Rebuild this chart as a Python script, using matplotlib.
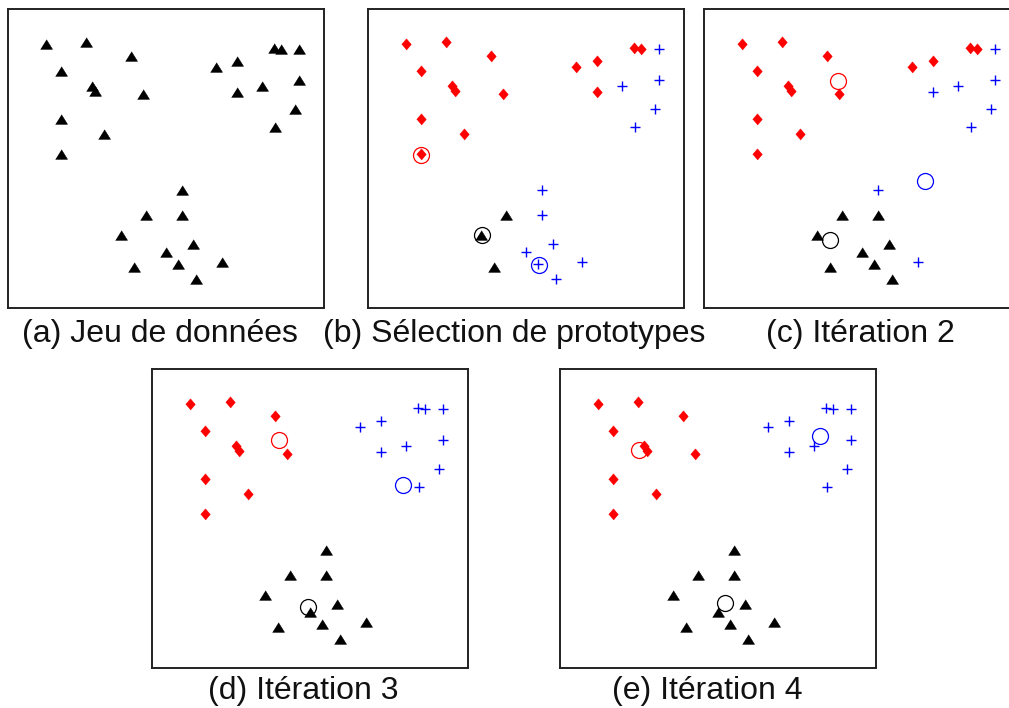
import matplotlib
matplotlib.use('Agg')
import matplotlib.pyplot as plt

# coordonnees des points (pixels dans le cadre, y vers le bas)
x = [38.0, 77.7, 123.0, 53.0, 83.7, 87.0, 135.3, 53.0, 96.0, 53.0,
     208.3, 228.7, 228.7, 254.3, 266.0, 273.0, 290.7, 290.7, 287.3, 266.7,
     174.3, 138.3, 174.3, 112.7, 184.7, 158.0, 170.0, 126.3, 214.3, 187.7]
y = [34.7, 33.0, 46.7, 62.3, 77.0, 82.3, 84.7, 110.3, 125.0, 145.3,
     58.3, 51.7, 83.3, 76.7, 39.0, 39.7, 39.7, 71.0, 100.0, 118.0,
     181.0, 205.7, 205.7, 225.7, 235.3, 243.3, 254.7, 258.0, 253.0, 269.7]

# 0 = rouge, 1 = bleu, 2 = noir
labels_a = [2] * 30
labels_b = [0, 0, 0, 0, 0, 0, 0, 0, 0, 0, 0, 0, 0, 1, 0, 0, 1, 1, 1, 1,
            1, 2, 1, 2, 1, 1, 1, 2, 1, 1]
labels_c = [0, 0, 0, 0, 0, 0, 0, 0, 0, 0, 0, 0, 1, 1, 0, 0, 1, 1, 1, 1,
            1, 2, 2, 2, 2, 2, 2, 2, 1, 2]
labels_d = [0, 0, 0, 0, 0, 0, 0, 0, 0, 0, 1, 1, 1, 1, 1, 1, 1, 1, 1, 1,
            2, 2, 2, 2, 2, 2, 2, 2, 2, 2]
labels_e = labels_d

# prototypes (rouge, bleu, noir)
centers_b = [(53.0, 146.3), (170.7, 255.7), (113.7, 226.3)]
centers_c = [(133.7, 72.3), (221.3, 171.7), (126.3, 230.7)]
centers_d = [(127.0, 71.0), (251.3, 116.0), (156.3, 237.7)]
centers_e = [(79.0, 80.7), (260.0, 67.3), (165.0, 234.0)]

titles = ['(a) Jeu de données', '(b) Sélection de prototypes',
          '(c) Itération 2', '(d) Itération 3', '(e) Itération 4']

W, H = 1009, 708
colors = ['#ff0000', '#0000ff', '#000000']
diamond = [(-0.85, 0), (0, 1), (0.85, 0), (0, -1)]
triangle = [(-1, -0.8), (1, -0.8), (0, 0.8)]
markers = [diamond, '+', triangle]
sizes = [8.0, 7.0, 8.6]


def paint_panel(rect, labels, centers=None):
    left, top, w, h = rect
    ax = fig.add_axes([left / W, 1 - (top + h) / H, w / W, h / H])
    for k in range(3):
        xs = [x[i] for i in range(len(x)) if labels[i] == k]
        ys = [y[i] for i in range(len(y)) if labels[i] == k]
        if not xs:
            continue
        ax.plot(xs, ys, linestyle='none', marker=markers[k], color=colors[k],
                markersize=sizes[k], markeredgewidth=1.0 if k == 1 else 0.4)
    if centers is not None:
        for k, (cx, cy) in enumerate(centers):
            ax.plot(cx, cy, linestyle='none', marker='o', markersize=11.5,
                    markerfacecolor='none', markeredgecolor=colors[k],
                    markeredgewidth=0.9)
    ax.set_xlim(0, 316)
    ax.set_ylim(299, 0)
    ax.set_xticks([])
    ax.set_yticks([])
    for s in ax.spines.values():
        s.set_linewidth(1.4)
        s.set_color('#222222')
    return ax


fig = plt.figure(figsize=(W / 100, H / 100), dpi=100)
paint_panel((8, 9, 316, 299), labels_a)
paint_panel((368, 9, 316, 299), labels_b, centers_b)
paint_panel((704, 9, 316, 299), labels_c, centers_c)
paint_panel((152, 369, 316, 299), labels_d, centers_d)
paint_panel((560, 369, 316, 299), labels_e, centers_e)

caption_pos = [(160, 342), (514, 342), (860, 342), (303, 699), (707, 699)]
for t, (cx, cy) in zip(titles, caption_pos):
    fig.text(cx / W, 1 - cy / H, t, ha='center', va='baseline',
             fontsize=23, family='Liberation Sans', color='#111111')

fig.savefig('out.png', dpi=100)
